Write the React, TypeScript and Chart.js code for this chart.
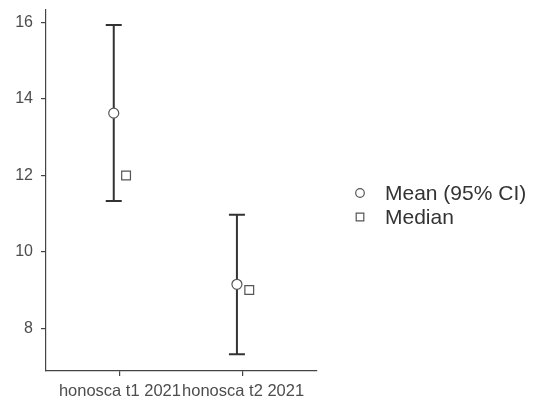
import React, { useEffect, useRef } from "react";
import { Chart, registerables } from "chart.js";

Chart.register(...registerables);

// Data
const categories = ["honosca t1 2021", "honosca t2 2021"];
const meanValues = [13.63, 9.15];
const ciLower = [11.33, 7.32];
const ciUpper = [15.94, 10.97];
const medianValues = [12.0, 9.0];
const yTicks = [8, 10, 12, 14, 16];
const seriesLabels = ["Mean (95% CI)", "Median"];

const FONT = '"Liberation Sans", Arial, Helvetica, sans-serif';
const DODGE = 0.05;

// Draws the confidence interval whiskers underneath the mean markers
const errorBarPlugin = {
  id: "errorBars",
  beforeDatasetsDraw(chart: any) {
    const { ctx, scales } = chart;
    const x = scales.x;
    const y = scales.y;
    ctx.save();
    ctx.strokeStyle = "#333333";
    ctx.lineWidth = 2;
    const capHalf = 8;
    categories.forEach((_, i) => {
      const px = x.getPixelForValue(i + 1 - DODGE);
      const top = y.getPixelForValue(ciUpper[i]);
      const bot = y.getPixelForValue(ciLower[i]);
      ctx.beginPath();
      ctx.moveTo(px, top);
      ctx.lineTo(px, bot);
      ctx.moveTo(px - capHalf, top);
      ctx.lineTo(px + capHalf, top);
      ctx.moveTo(px - capHalf, bot);
      ctx.lineTo(px + capHalf, bot);
      ctx.stroke();
    });
    ctx.restore();
  },
};

// Legend to the right of the plot panel
const sideLegendPlugin = {
  id: "sideLegend",
  afterDraw(chart: any) {
    const { ctx } = chart;
    ctx.save();
    ctx.font = `21px ${FONT}`;
    ctx.textBaseline = "middle";
    const symX = 360;
    const textX = 385;
    const rows = [193, 217];
    chart.data.datasets.forEach((ds: any, i: number) => {
      const yy = rows[i];
      ctx.strokeStyle = "#555555";
      ctx.lineWidth = 1.2;
      ctx.fillStyle = "#ffffff";
      ctx.beginPath();
      if (ds.pointStyle === "circle") {
        ctx.arc(symX, yy, 4.3, 0, Math.PI * 2);
      } else {
        ctx.rect(symX - 3.8, yy - 3.8, 7.6, 7.6);
      }
      ctx.fill();
      ctx.stroke();
      ctx.fillStyle = "#333333";
      ctx.fillText(ds.label, textX, yy + 1);
    });
    ctx.restore();
  },
};

export default function App() {
  const canvasRef = useRef<HTMLCanvasElement | null>(null);

  useEffect(() => {
    if (!canvasRef.current) return;
    const chart = new Chart(canvasRef.current, {
      type: "scatter",
      data: {
        datasets: [
          {
            label: seriesLabels[0],
            data: meanValues.map((v, i) => ({ x: i + 1 - DODGE, y: v })),
            pointStyle: "circle",
            pointRadius: 5,
            pointBackgroundColor: "#ffffff",
            pointBorderColor: "#555555",
            pointBorderWidth: 1.2,
          },
          {
            label: seriesLabels[1],
            data: medianValues.map((v, i) => ({ x: i + 1 + DODGE, y: v })),
            pointStyle: "rect",
            pointRadius: 6.2,
            pointBackgroundColor: "#ffffff",
            pointBorderColor: "#555555",
            pointBorderWidth: 1.2,
          },
        ],
      },
      options: {
        animation: false,
        responsive: false,
        maintainAspectRatio: false,
        layout: { padding: { top: 10, right: 217, bottom: 0, left: 0 } },
        plugins: {
          legend: { display: false },
          tooltip: { enabled: false },
        },
        scales: {
          x: {
            type: "linear",
            min: 0.4,
            max: 2.6,
            afterBuildTicks: (scale: any) => {
              scale.ticks = categories.map((_, i) => ({ value: i + 1 }));
            },
            afterFit: (scale: any) => {
              scale.height = 32;
              scale.paddingLeft = 0;
              scale.paddingRight = 0;
            },
            ticks: {
              autoSkip: false,
              maxRotation: 0,
              minRotation: 0,
              padding: 6,
              color: "#4d4d4d",
              font: { family: FONT, size: 16.5 },
              callback: (v: any) => categories[Math.round(Number(v)) - 1] ?? "",
            },
            grid: {
              drawOnChartArea: false,
              drawTicks: true,
              tickLength: 5,
              color: "#444444",
              lineWidth: 1.2,
            },
            border: { display: true, color: "#444444", width: 1.2 },
          },
          y: {
            type: "linear",
            min: 6.88,
            max: 16.33,
            afterBuildTicks: (scale: any) => {
              scale.ticks = yTicks.map((v) => ({ value: v }));
            },
            afterFit: (scale: any) => {
              scale.width = 46;
              scale.paddingTop = 0;
              scale.paddingBottom = 0;
            },
            ticks: {
              padding: 8,
              color: "#4d4d4d",
              font: { family: FONT, size: 16 },
            },
            grid: {
              drawOnChartArea: false,
              drawTicks: true,
              tickLength: 5,
              color: "#444444",
              lineWidth: 1.2,
            },
            border: { display: true, color: "#444444", width: 1.2 },
          },
        },
      },
      plugins: [errorBarPlugin, sideLegendPlugin],
    } as any);
    return () => chart.destroy();
  }, []);

  return (
    <div style={{ position: "absolute", left: 0, top: 0, width: 534, height: 403, background: "#ffffff" }}>
      <canvas ref={canvasRef} width={534} height={403} style={{ width: 534, height: 403 }} />
    </div>
  );
}
